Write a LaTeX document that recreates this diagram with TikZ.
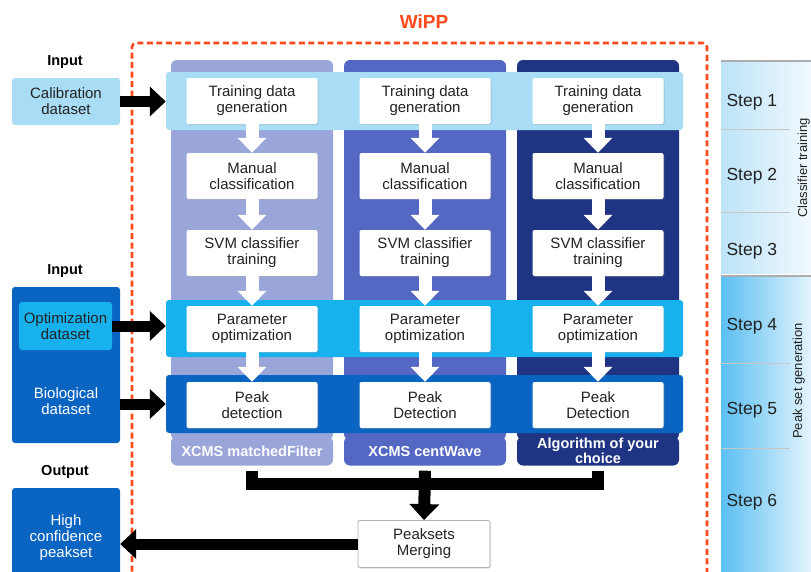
\documentclass[tikz,border=0pt]{standalone}
\usepackage{fontspec}
\setmainfont{Liberation Sans}
\usetikzlibrary{arrows.meta,shadows}
\definecolor{orng}{HTML}{FF4A1C}
\definecolor{colA}{HTML}{9AA6DA}
\definecolor{colB}{HTML}{5467C3}
\definecolor{colC}{HTML}{1F3483}
\definecolor{bandA}{HTML}{A9DDF6}
\definecolor{bandB}{HTML}{17B2EE}
\definecolor{bandC}{HTML}{0A64C2}
\definecolor{txt}{HTML}{222222}
\definecolor{stepUpL}{HTML}{BCE3F8}
\definecolor{stepUpR}{HTML}{F4FAFE}
\definecolor{stepLoL}{HTML}{5BBFF3}
\definecolor{stepLoR}{HTML}{EAF6FD}
\tikzset{
  wbox/.style={fill=white, rounded corners=2pt, minimum width=131pt, minimum height=46pt,
    inner sep=0pt, align=center, font=\fontsize{15}{16}\selectfont, text=txt,
    drop shadow={shadow xshift=1pt, shadow yshift=-1pt, opacity=0.25}},
  band/.style={rounded corners=3pt, minimum width=517pt, minimum height=58pt, inner sep=0pt},
  collab/.style={rounded corners=6pt, minimum width=162pt, minimum height=29pt, inner sep=0pt,
    align=center, text=white, font=\bfseries\fontsize{14.5}{15}\selectfont},
  headtxt/.style={font=\bfseries\fontsize{14.5}{16}\selectfont, text=black},
  inbox/.style={rounded corners=3pt, inner sep=0pt, align=center, font=\fontsize{15}{16}\selectfont},
  blkarrow/.style={draw=black, line width=11pt, -{Triangle[width=29pt,length=16pt]}},
  whtarrow/.style={draw=white, line width=13pt, -{Triangle[width=28pt,length=15pt]}},
  mergeline/.style={draw=black, line width=12pt, line join=miter},
  steptxt/.style={anchor=west, font=\fontsize{17.5}{19}\selectfont, text=txt},
  sidetxt/.style={rotate=90, anchor=base, inner sep=0pt, font=\fontsize{13}{14}\selectfont, text=txt},
  sepline/.style={draw=gray!45, line width=0.8pt}
}
\begin{document}
\begin{tikzpicture}[x=1pt,y=-1pt]
\useasboundingbox (0,0) rectangle (811,571);
\clip (0,0) rectangle (811,571);

% right step panel
\shade[left color=stepUpL, right color=stepUpR] (721,61) rectangle (815,273);
\shade[left color=stepLoL, right color=stepLoR] (721,277) rectangle (815,575);
\draw[draw=gray!65, line width=1.5pt] (721,61) -- (815,61);
\draw[draw=gray!65, line width=1.5pt] (721,276) -- (815,276);
\draw[sepline] (721,129) -- (790,129);
\draw[sepline] (721,212) -- (790,212);
\draw[sepline] (721,363) -- (790,363);
\draw[sepline] (721,448) -- (790,448);
\node[steptxt] (s1) at (723,102) {Step 1};
\node[steptxt] (s2) at (723,176) {Step 2};
\node[steptxt] (s3) at (723,251) {Step 3};
\node[steptxt] (s4) at (723,326) {Step 4};
\node[steptxt] (s5) at (723,410) {Step 5};
\node[steptxt] (s6) at (723,502) {Step 6};
\node[sidetxt] (ct) at (807,168) {Classifier training};
\node[sidetxt] (pg) at (802,381) {Peak set generation};

% WiPP frame
\node[font=\bfseries\fontsize{19}{20}\selectfont, text=orng] (wipp) at (424,22) {WiPP};
\draw[orng, line width=2.6pt, dash pattern=on 6pt off 3.5pt, rounded corners=4pt]
  (132,600) -- (132,43) -- (707,43) -- (707,600);

% columns
\fill[colA, rounded corners=6pt] (171,60) rectangle (333,440);
\fill[colB, rounded corners=6pt] (344,60) rectangle (506,440);
\fill[colC, rounded corners=6pt] (517,60) rectangle (679,440);
\node[collab, fill=colA] (lab1) at (252,451) {XCMS matchedFilter};
\node[collab, fill=colB] (lab2) at (425,451) {XCMS centWave};
\node[collab, fill=colC] (lab3) at (598,451) {Algorithm of your\\choice};

% bands
\node[band, fill=bandA] (band1) at (424.5,101) {};
\node[band, fill=bandB, minimum height=57pt] (band4) at (424.5,328.5) {};
\node[band, fill=bandC] (band5) at (424.5,404) {};

% white boxes
\foreach \c/\x in {a/252, b/425, c/598} {
  \node[wbox] (t\c) at (\x,101) {Training data\\generation};
  \node[wbox] (m\c) at (\x,176) {Manual\\classification};
  \node[wbox] (v\c) at (\x,253) {SVM classifier\\training};
  \node[wbox] (p\c) at (\x,329) {Parameter\\optimization};
}
\node[wbox] (da) at (252,405) {Peak\\detection};
\node[wbox] (db) at (425,405) {Peak\\Detection};
\node[wbox] (dc) at (598,405) {Peak\\Detection};

\foreach \c in {a,b,c} {
  \draw[whtarrow] (t\c.south) -- (m\c.north);
  \draw[whtarrow] (m\c.south) -- (v\c.north);
  \draw[whtarrow] (v\c.south) -- (p\c.north);
  \draw[whtarrow] (p\c.south) -- (d\c.north);
}

% left inputs
\node[headtxt] (in1) at (65,62) {Input};
\node[inbox, fill=bandA, minimum width=108pt, minimum height=47pt, text=txt] (calib) at (66,101.5) {Calibration\\dataset};
\node[headtxt] (in2) at (65,271) {Input};
\node[inbox, fill=bandC, minimum width=108pt, minimum height=156pt] (big) at (66,365) {};
\node[inbox, fill=bandB, minimum width=93pt, minimum height=48pt, text=txt] (opt) at (65.5,326) {Optimization\\dataset};
\node[inbox, text=white] (bio) at (66,401) {Biological\\dataset};
\node[headtxt] (out1) at (65,472) {Output};
\node[inbox, fill=bandC, minimum width=108pt, minimum height=100pt, text=white] (outb) at (66,538) {High\\confidence\\peakset};

\draw[blkarrow] (calib.east) -- (calib.east -| band1.west);
\draw[blkarrow] (opt.east) -- (opt.east -| band4.west);
\draw[blkarrow] (big.east |- band5.west) -- (band5.west);

% merging
\node[wbox, draw=gray!60, line width=0.8pt, minimum height=47pt, minimum width=132pt] (merge) at (424,544) {Peaksets\\Merging};
\draw[mergeline] ([yshift=-5pt]lab1.south) -- ++(0,13) -| ([yshift=-5pt]lab3.south);
\draw[draw=black, line width=12pt, -{Triangle[width=29pt,length=16pt]}] ([yshift=-5pt]lab2.south) -- (merge.north);
\draw[blkarrow] (merge.west) -- (merge.west -| outb.east);
\end{tikzpicture}
\end{document}
